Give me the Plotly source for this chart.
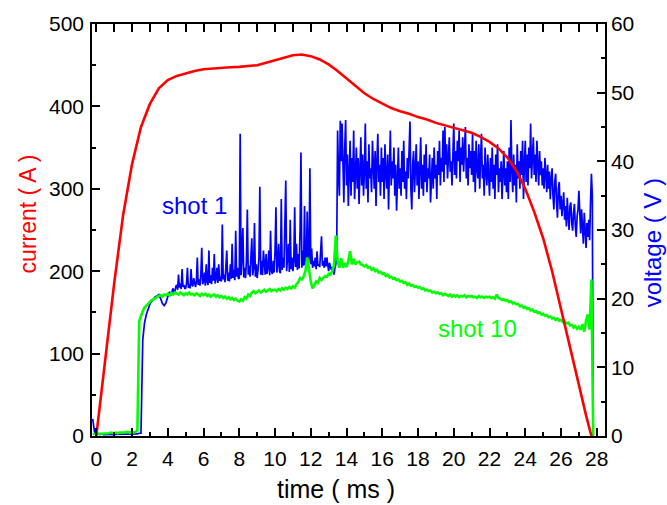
import numpy as np
import plotly.graph_objects as go

# ---------------- data ----------------
# current (A), smooth trace
red_t = [0.0, 0.5, 1.0, 1.5, 2.0, 2.5, 3.0, 3.5, 4.0, 4.5, 5.0, 5.5, 6.0, 6.5, 7.0, 7.5,
         8.0, 8.5, 9.0, 9.5, 10.0, 10.5, 11.0, 11.5, 12.0, 12.5, 13.0, 13.5, 14.0, 14.5,
         15.0, 15.5, 16.0, 16.5, 17.0, 17.5, 18.0, 18.5, 19.0, 19.5, 20.0, 20.5, 21.0,
         21.5, 22.0, 22.5, 23.0, 23.5, 24.0, 24.5, 25.0, 25.5, 26.0, 26.5, 27.0, 27.4, 27.7]
red_i = [0, 95, 185, 268, 330, 375, 403, 422, 432, 437, 440, 443, 445, 446, 447, 447.5,
         448, 449, 450, 453, 456, 459, 462, 463, 461, 457, 451, 443, 434, 425,
         416, 409, 403, 398, 394, 391, 387, 384, 380, 377, 374, 371, 368,
         363, 357, 349, 338, 322, 300, 272, 240, 200, 155, 110, 62, 25, 0]

# shot 1 voltage (V): samples every 0.1 ms from -0.2 ms to 3.9 ms
shot1_early = [
    2.5, 0.6,
    0.2, 0.3, 0.2, 0.3, 0.2, 0.2, 0.3, 0.2, 0.3, 0.3,
    0.2, 0.3, 0.2, 0.3, 0.3, 0.2, 0.3, 0.3, 0.2, 0.3,
    0.3, 0.3, 0.2, 0.3, 0.4, 0.4, 14.0, 16.5, 17.7, 18.5,
    19.2, 19.6, 20.0, 20.3, 20.4, 20.6, 20.0, 19.3, 19.0, 19.4,
]
# shot 1 voltage (V): samples every 0.05 ms, one row per millisecond starting at 4 ms
shot1_rows = [
    [20.3, 20.8, 21.0, 20.5, 20.6, 21.2, 21.5, 20.9, 21.0, 21.8, 22.0, 21.3, 23.5, 21.6, 22.2, 21.4, 24.3, 21.7, 22.0, 21.5],
    [21.5, 22.3, 24.5, 21.6, 22.1, 21.5, 24.3, 22.0, 21.8, 23.0, 22.2, 21.7, 22.5, 26.0, 22.0, 22.8, 21.9, 23.5, 27.4, 22.1],
    [22.5, 23.8, 21.9, 25.0, 22.4, 22.0, 27.0, 22.3, 23.4, 22.1, 24.5, 22.6, 26.5, 22.2, 23.0, 24.5, 22.3, 25.0, 22.6, 23.2],
    [22.5, 30.8, 22.8, 23.5, 22.4, 25.5, 27.0, 22.6, 23.8, 22.5, 25.0, 22.9, 28.0, 23.0, 24.2, 22.7, 29.9, 23.2, 24.5, 22.9],
    [23.0, 44.0, 23.4, 26.0, 30.3, 23.1, 24.5, 23.0, 25.5, 33.0, 23.5, 24.8, 23.2, 26.0, 28.8, 23.4, 24.5, 31.0, 23.2, 25.0],
    [23.0, 24.2, 26.0, 36.3, 23.5, 25.5, 23.4, 27.0, 24.0, 23.5, 26.5, 23.6, 24.5, 27.0, 23.4, 29.9, 24.0, 23.6, 25.5, 23.8],
    [27.0, 33.3, 23.8, 25.0, 28.0, 24.0, 23.7, 34.5, 24.2, 26.0, 24.5, 30.5, 37.2, 24.0, 25.5, 28.0, 23.9, 31.5, 24.3, 26.0],
    [24.0, 25.5, 33.3, 24.6, 28.0, 24.2, 26.5, 24.4, 30.0, 41.3, 24.5, 27.0, 24.8, 33.5, 25.0, 24.6, 32.7, 24.7, 26.0, 39.0],
    [25.0, 27.3, 24.5, 25.5, 24.7, 26.0, 24.3, 26.9, 24.8, 25.0, 24.6, 27.5, 29.1, 24.8, 25.5, 24.5, 26.0, 24.7, 26.0, 24.9],
    [24.0, 25.2, 24.6, 24.2, 24.6, 23.8, 23.5, 24.5, 25.0, 27.0, 44.5, 38.0, 35.0, 45.9, 40.0, 45.5, 36.0, 34.0, 42.0, 46.0],
    [36.5, 41.0, 33.5, 39.0, 43.0, 35.0, 40.5, 37.0, 44.5, 34.5, 38.0, 42.0, 36.0, 40.5, 33.8, 39.5, 43.5, 36.5, 41.0, 35.0],
    [38.5, 45.5, 36.0, 40.0, 34.0, 42.5, 37.5, 39.0, 35.5, 43.0, 38.0, 36.0, 41.5, 33.5, 40.0, 44.0, 37.0, 39.5, 35.0, 42.0],
    [37.0, 40.5, 34.5, 42.5, 38.0, 36.0, 41.0, 33.0, 39.0, 44.5, 36.5, 40.0, 37.5, 42.0, 35.0, 39.5, 32.8, 38.5, 42.0, 36.0],
    [39.0, 35.0, 41.5, 37.0, 43.0, 36.0, 38.5, 34.5, 40.5, 37.5, 42.0, 45.8, 36.0, 33.0, 39.5, 41.5, 35.5, 38.0, 42.5, 36.5],
    [40.0, 34.5, 38.5, 43.5, 36.0, 39.5, 35.0, 41.0, 37.0, 42.5, 35.5, 39.0, 37.5, 41.0, 34.0, 38.5, 40.5, 36.0, 42.0, 37.5],
    [39.5, 34.5, 41.5, 38.0, 43.0, 36.5, 40.5, 38.5, 44.5, 37.0, 45.0, 39.5, 42.5, 37.5, 41.0, 43.5, 38.5, 40.0, 36.5, 42.0],
    [45.5, 38.0, 41.5, 37.5, 43.0, 40.0, 44.5, 37.0, 42.0, 39.5, 43.5, 38.5, 41.0, 45.0, 37.5, 40.5, 36.5, 42.5, 39.0, 41.5],
    [38.0, 44.0, 37.0, 41.5, 35.5, 43.0, 39.0, 37.5, 42.5, 36.0, 40.5, 44.0, 37.5, 39.5, 35.0, 42.0, 38.5, 36.5, 41.0, 38.0],
    [35.0, 40.5, 37.0, 42.0, 36.0, 39.5, 34.5, 41.0, 38.0, 42.5, 35.5, 39.0, 37.0, 40.0, 34.5, 38.5, 41.5, 36.5, 39.0, 35.5],
    [40.0, 34.5, 42.0, 37.0, 46.0, 38.5, 35.5, 41.0, 36.5, 39.5, 34.0, 42.5, 37.5, 40.0, 36.0, 41.5, 38.0, 43.0, 34.5, 39.5],
    [43.0, 37.0, 41.0, 36.5, 42.0, 39.0, 45.5, 37.5, 40.5, 43.5, 38.0, 41.0, 37.0, 43.0, 39.5, 36.5, 41.5, 38.0, 40.0, 36.5],
    [39.0, 36.0, 40.5, 37.0, 35.5, 39.5, 36.0, 38.5, 34.5, 37.5, 39.0, 35.0, 33.0, 37.0, 38.2, 34.0, 31.8, 36.0, 37.0, 33.0],
    [35.0, 32.0, 34.0, 35.5, 31.5, 33.5, 30.5, 34.7, 32.0, 30.0, 33.5, 34.0, 31.0, 29.9, 32.5, 33.8, 30.5, 29.0, 32.0, 33.0],
    [35.7, 31.0, 29.5, 33.0, 30.0, 28.0, 32.5, 30.5, 27.4, 31.0, 29.0, 31.5, 28.5, 34.0, 38.2, 35.0, 0.0],
]

# shot 10 voltage (V): samples every 0.1 ms from -0.2 ms
shot10_v = [
    0.3, 0.3,
    0.3, 0.4, 0.3, 0.4, 0.4, 0.3, 0.4, 0.4, 0.5, 0.4,
    0.4, 0.5, 0.4, 0.5, 0.5, 0.4, 0.5, 0.6, 0.5, 0.5,
    0.6, 0.5, 0.6, 0.8, 16.7, 17.5, 18.2, 18.7, 19.0, 19.3,
    19.6, 19.8, 19.9, 20.1, 20.2, 20.4, 20.5, 20.3, 20.6, 20.5,
    20.7, 20.5, 20.8, 20.6, 20.9, 20.7, 20.6, 20.9, 20.7, 20.5,
    20.8, 20.6, 20.9, 20.6, 20.7, 20.5, 20.8, 20.6, 20.4, 20.7,
    20.5, 20.7, 20.4, 20.6, 20.3, 20.5, 20.6, 20.3, 20.5, 20.2,
    20.4, 20.1, 20.3, 20.0, 20.2, 19.9, 20.1, 19.8, 20.0, 19.7,
    19.6, 19.9, 19.7, 20.2, 20.0, 20.6, 20.4, 20.9, 21.1, 20.8,
    21.0, 21.2, 20.9, 21.1, 21.3, 21.0, 21.2, 21.4, 21.1, 21.3,
    21.3, 21.1, 21.4, 21.2, 21.5, 21.3, 21.6, 21.4, 21.7, 21.5,
    21.8, 21.6, 22.1, 22.4, 23.0, 22.8, 23.2, 24.0, 26.0, 24.0,
    22.5, 21.5, 22.0, 22.5, 22.3, 23.0, 22.7, 23.0, 23.3, 23.2,
    23.6, 23.5, 24.0, 25.0, 29.2, 25.5, 24.5, 25.9, 24.5, 25.2,
    24.6, 25.5, 26.9, 25.0, 25.8, 25.0, 25.3, 25.4, 25.0, 24.9,
    24.7, 24.9, 24.5, 24.6, 24.2, 24.4, 24.0, 24.2, 23.8, 23.9,
    23.6, 23.7, 23.3, 23.5, 23.1, 23.2, 22.9, 23.0, 22.7, 22.8,
    22.5, 22.6, 22.3, 22.4, 22.0, 22.2, 21.9, 22.0, 21.7, 21.8,
    21.6, 21.7, 21.4, 21.5, 21.2, 21.3, 21.1, 21.2, 20.9, 21.0,
    20.8, 20.9, 20.7, 20.8, 20.5, 20.7, 20.6, 20.4, 20.6, 20.3,
    20.5, 20.3, 20.5, 20.2, 20.4, 20.3, 20.5, 20.2, 20.4, 20.3,
    20.4, 20.2, 20.3, 20.1, 20.4, 20.2, 20.3, 20.1, 20.3, 20.2,
    20.3, 20.1, 20.2, 20.0, 20.6, 20.1, 20.0, 19.8, 19.9, 19.7,
    19.8, 19.5, 19.6, 19.3, 19.4, 19.2, 19.2, 18.9, 19.0, 18.7,
    18.8, 18.5, 18.6, 18.3, 18.4, 18.1, 18.2, 17.9, 18.0, 17.7,
    17.8, 17.5, 17.6, 17.3, 17.4, 17.1, 17.2, 16.9, 17.1, 16.8,
    16.9, 16.6, 16.7, 16.4, 16.5, 16.1, 16.2, 15.8, 16.0, 15.6,
    15.9, 15.5, 16.3, 15.2, 16.8, 17.7, 15.5, 22.8, 0.0,
]

x_ticks = list(range(0, 29, 2))
x_range = [-0.24, 28.46]

# sample times
t1 = [round(-0.2 + 0.1 * i, 3) for i in range(len(shot1_early))]
v1 = list(shot1_early)
for n, row in enumerate(shot1_rows):
    t1 += [round(4 + n + 0.05 * i, 3) for i in range(len(row))]
    v1 += row
t10 = [round(-0.2 + 0.1 * i, 3) for i in range(len(shot10_v))]

# ---------------- figure ----------------
FONT = "Liberation Sans, Arial, sans-serif"
fig = go.Figure()
fig.add_trace(go.Scatter(x=t1, y=v1, mode="lines", line=dict(color="#0000FF", width=1.7),
                         xaxis="x", yaxis="y", showlegend=False, hoverinfo="skip"))
fig.add_trace(go.Scatter(x=t10, y=shot10_v, mode="lines", line=dict(color="#00FF00", width=2.6),
                         xaxis="x", yaxis="y", showlegend=False, hoverinfo="skip"))
fig.add_trace(go.Scatter(x=red_t, y=red_i, mode="lines", line=dict(color="#FF0000", width=2.6),
                         xaxis="x2", yaxis="y2", showlegend=False, hoverinfo="skip"))

axis_common = dict(showline=True, linecolor="black", linewidth=1.5, showgrid=False,
                   zeroline=False, ticks="inside", ticklen=8, tickwidth=1.5, tickcolor="black",
                   automargin=False,
                   tickfont=dict(family=FONT, size=21, color="black"))

fig.update_layout(
    width=667, height=505,
    margin=dict(l=92, r=62, t=24, b=69),
    paper_bgcolor="white", plot_bgcolor="white",
    xaxis=dict(range=x_range, tickvals=x_ticks, ticktext=[str(v) for v in x_ticks],
               minor=dict(dtick=1, tick0=0, ticks="inside", ticklen=4, tickwidth=1.5, tickcolor="black"),
               ticklabelstandoff=3, **axis_common),
    xaxis2=dict(range=x_range, overlaying="x", side="top", dtick=1, tick0=0,
                showticklabels=False, **axis_common),
    yaxis=dict(range=[0, 60], dtick=10, tick0=0, side="right",
               minor=dict(dtick=5, tick0=0, ticks="inside", ticklen=4, tickwidth=1.5, tickcolor="black"),
               ticklabelstandoff=0, **axis_common),
    yaxis2=dict(range=[0, 500], dtick=100, tick0=0, side="left", overlaying="y", anchor="x2",
                minor=dict(dtick=50, tick0=0, ticks="inside", ticklen=4, tickwidth=1.5, tickcolor="black"),
                ticklabelstandoff=2, **axis_common),
)

fig.add_annotation(text="time ( ms )", xref="paper", yref="paper", x=0.4756, y=-0.1286,
                   xanchor="center", yanchor="middle", showarrow=False,
                   font=dict(family=FONT, size=25, color="black"))
fig.add_annotation(text="current ( A )", xref="paper", yref="paper", x=-0.125, y=0.54,
                   xanchor="center", yanchor="middle", textangle=-90, showarrow=False,
                   font=dict(family=FONT, size=23, color="#FF0000"))
fig.add_annotation(text="voltage ( V )", xref="paper", yref="paper", x=1.0916, y=0.47,
                   xanchor="center", yanchor="middle", textangle=-90, showarrow=False,
                   font=dict(family=FONT, size=24, color="#0000FF"))
fig.add_annotation(text="shot 1", xref="x", yref="y", x=5.47, y=33.5, showarrow=False,
                   xanchor="center", yanchor="middle", font=dict(family=FONT, size=24, color="#0000FF"))
fig.add_annotation(text="shot 10", xref="x", yref="y", x=21.34, y=15.7, showarrow=False,
                   xanchor="center", yanchor="middle", font=dict(family=FONT, size=24, color="#00FF00"))

fig.write_html("out.html", config={"displayModeBar": False},
               post_script="document.body.style.margin='0';document.body.style.padding='0';")
